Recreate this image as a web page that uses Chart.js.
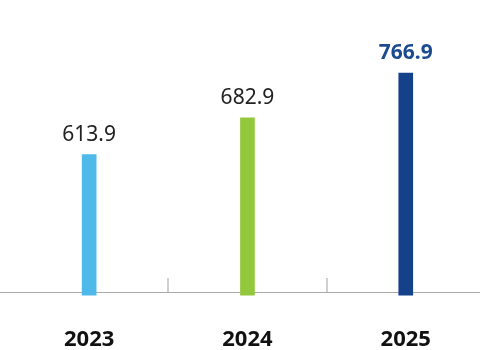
<!DOCTYPE html>
<html>
<head>
<meta charset="utf-8">
<script src="https://cdn.jsdelivr.net/npm/chart.js@4"></script>
<style>
  html, body { margin: 0; padding: 0; background: #ffffff; overflow: hidden; }
  #wrap { position: relative; width: 480px; height: 350px; }
</style>
</head>
<body>
<div id="wrap"><canvas id="c"></canvas></div>
<script>
const categories = ['2023', '2024', '2025'];
const values = [613.9, 682.9, 766.9];
const valueLabels = ['613.9', '682.9', '766.9'];
const barColors = ['#4fb9e9', '#93c83d', '#15408a'];
const labelColors = ['#222222', '#222222', '#1c4b91'];
const labelWeights = ['normal', 'normal', 'bold'];
const boundaryTicks = [-0.5, 0.5, 1.5];

const valueLabelPlugin = {
  id: 'valueLabels',
  afterDatasetsDraw(chart) {
    const ctx = chart.ctx;
    const meta = chart.getDatasetMeta(0);
    ctx.save();
    ctx.textAlign = 'center';
    ctx.textBaseline = 'alphabetic';
    meta.data.forEach((bar, i) => {
      ctx.font = labelWeights[i] + ' 21px "Noto Sans"';
      ctx.fillStyle = labelColors[i];
      ctx.fillText(valueLabels[i], bar.x, bar.y - 14);
    });
    ctx.restore();
  }
};

new Chart(document.getElementById('c'), {
  type: 'bar',
  data: {
    datasets: [{
      data: values.map((v, i) => ({ x: i, y: v })),
      backgroundColor: barColors,
      borderWidth: 0,
      barThickness: 14,
      base: 350,
      clip: false
    }]
  },
  options: {
    responsive: true,
    maintainAspectRatio: false,
    animation: false,
    layout: { padding: 0, autoPadding: false },
    plugins: { legend: { display: false }, tooltip: { enabled: false } },
    scales: {
      x: {
        type: 'linear',
        min: -0.5632,
        max: 2.469,
        offset: false,
        afterBuildTicks(scale) {
          scale.ticks = boundaryTicks.map(v => ({ value: v }));
        },
        afterFit(scale) {
          scale.height = 58;
          scale.paddingLeft = 0;
          scale.paddingRight = 0;
        },
        grid: {
          display: true,
          offset: false,
          drawOnChartArea: false,
          drawTicks: true,
          tickLength: -14,
          lineWidth: 2,
          color: (c) => c.index === 0 ? 'rgba(0,0,0,0)' : '#d0d0d0'
        },
        border: { display: true, color: '#a9a9a9', width: 1 },
        ticks: {
          autoSkip: false,
          maxRotation: 0,
          minRotation: 0,
          labelOffset: 79.15,
          padding: 52,
          color: '#111111',
          font: { family: 'Noto Sans', size: 22, weight: 'bold', lineHeight: '20px' },
          callback: (v, i) => categories[i]
        }
      },
      y: {
        display: false,
        beginAtZero: false,
        min: 356,
        max: 904
      }
    }
  },
  plugins: [valueLabelPlugin]
});
</script>
</body>
</html>
